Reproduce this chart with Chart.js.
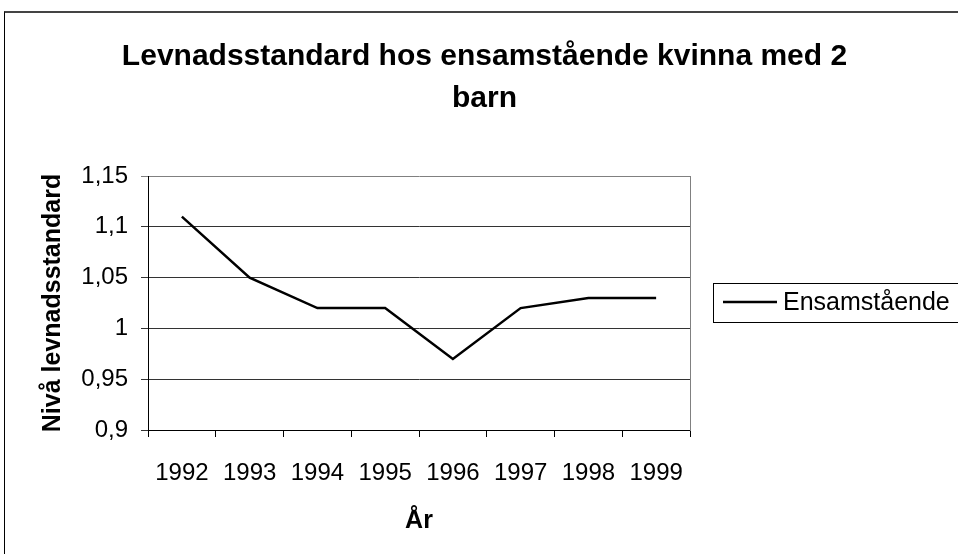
<!DOCTYPE html>
<html>
<head>
<meta charset="utf-8">
<script src="https://cdn.jsdelivr.net/npm/chart.js@4/dist/chart.umd.min.js"></script>
<style>
  html, body { margin: 0; padding: 0; background: #fff; }
  #wrap { position: relative; width: 958px; height: 554px; overflow: hidden; }
  #frame { position: absolute; left: 4px; top: 11px; width: 1000px; height: 600px; border-top: 2px solid #444; border-left: 1px solid #000; box-sizing: border-box; }
  canvas { position: absolute; left: 0; top: 0; }
</style>
</head>
<body>
<div id="wrap">
  <div id="frame"></div>
  <canvas id="c" width="958" height="554"></canvas>
</div>
<script>
const years = ['1992', '1993', '1994', '1995', '1996', '1997', '1998', '1999'];
const ensamstaende = [1.11, 1.05, 1.02, 1.02, 0.97, 1.02, 1.03, 1.03];
const titleLines = ['Levnadsstandard hos ensamstående kvinna med 2', 'barn'];
const seriesLabel = 'Ensamstående';

const FONT = 'Arial, "Liberation Sans", sans-serif';

// legend drawn as a framed box like the original
const boxLegend = {
    id: 'boxLegend',
    afterDraw(chart) {
        const ctx = chart.ctx;
        const ds = chart.data.datasets[0];
        ctx.save();
        ctx.strokeStyle = '#000';
        ctx.lineWidth = 1;
        ctx.strokeRect(713.5, 283.5, 260, 39);
        ctx.beginPath();
        ctx.lineWidth = 2.5;
        ctx.moveTo(723, 302);
        ctx.lineTo(777, 302);
        ctx.stroke();
        ctx.fillStyle = '#000';
        ctx.font = '25px ' + FONT;
        ctx.textBaseline = 'middle';
        ctx.fillText(ds.label, 783, 303);
        ctx.restore();
    }
};

new Chart(document.getElementById('c'), {
    type: 'line',
    data: {
        labels: years,
        datasets: [{
            label: seriesLabel,
            data: ensamstaende,
            borderColor: '#000',
            borderWidth: 2.5,
            pointRadius: 0,
            tension: 0,
            fill: false
        }]
    },
    plugins: [boxLegend],
    options: {
        responsive: false,
        animation: false,
        layout: { padding: { left: 11, right: 0, top: 0, bottom: 0 } },
        plugins: {
            legend: { display: false },
            tooltip: { enabled: false },
            title: {
                display: true,
                text: titleLines,
                color: '#000',
                font: { family: FONT, size: 30, weight: 'bold', lineHeight: 1.4 },
                padding: { top: 36, bottom: 56 }
            }
        },
        scales: {
            x: {
                offset: true,
                grid: { offset: true, drawOnChartArea: false, drawTicks: true, tickLength: 7, color: '#000' },
                border: { color: '#000', width: 1 },
                ticks: { color: '#000', font: { family: FONT, size: 24 }, padding: 22, maxRotation: 0, autoSkip: false },
                title: { display: true, text: 'År', color: '#000', font: { family: FONT, size: 25, weight: 'bold' }, padding: { top: 0, bottom: 18 } },
                afterFit: s => { s.height = 124; }
            },
            y: {
                min: 0.9,
                max: 1.15,
                grid: {
                    color: c => (c.tick && c.tick.value > 1.14) ? '#808080' : '#333',
                    lineWidth: 1,
                    tickLength: 7
                },
                border: { color: '#000', width: 1 },
                ticks: {
                    stepSize: 0.05,
                    color: '#000',
                    padding: 13,
                    font: { family: FONT, size: 24 },
                    callback: v => (Math.round(v * 100) / 100).toString().replace('.', ',')
                },
                title: { display: true, text: 'Nivå levnadsstandard', color: '#000', font: { family: FONT, size: 25, weight: 'bold' }, padding: { top: 27, bottom: 0 } },
                afterFit: s => { s.width = 137; }
            },
            // empty right-hand scale: keeps room for the legend and draws the plot's right edge
            yRight: {
                position: 'right',
                grid: { drawOnChartArea: false, drawTicks: false },
                border: { color: '#808080', width: 1 },
                ticks: { display: false },
                afterFit: s => { s.width = 268; }
            }
        }
    },
});
</script>
</body>
</html>
